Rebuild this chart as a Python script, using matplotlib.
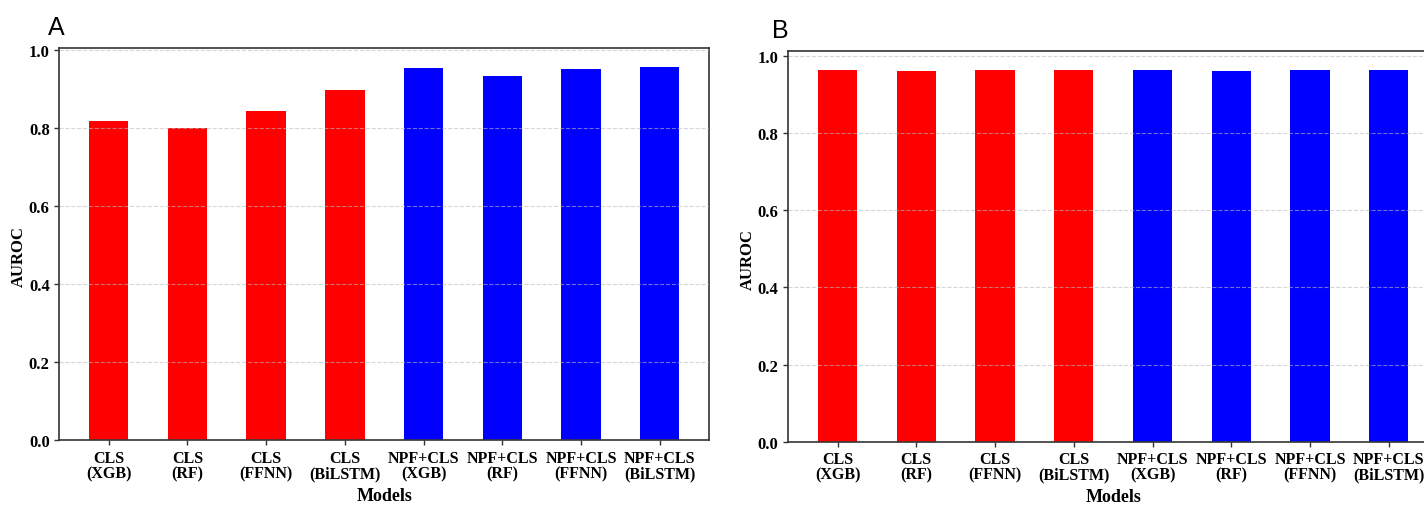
import matplotlib
matplotlib.use("Agg")
import matplotlib.pyplot as plt

modelos = ["CLS\n(XGB)", "CLS\n(RF)", "CLS\n(FFNN)", "CLS\n(BiLSTM)",
           "NPF+CLS\n(XGB)", "NPF+CLS\n(RF)", "NPF+CLS\n(FFNN)", "NPF+CLS\n(BiLSTM)"]
auroc_a = [0.818, 0.801, 0.844, 0.898, 0.953, 0.934, 0.952, 0.957]
auroc_b = [0.964, 0.962, 0.964, 0.964, 0.964, 0.962, 0.964, 0.964]
colores = ["red"] * 4 + ["blue"] * 4

SERIF = "Liberation Serif"
SANS = "Liberation Sans"


def graficar(ax, valores):
    x = range(len(modelos))
    ax.bar(x, valores, width=0.5, color=colores)
    ax.set_xticks(list(x))
    ax.set_xticklabels(modelos, fontsize=11.5, fontweight="bold",
                       family=SERIF, linespacing=0.95)
    for lbl in ax.get_yticklabels():
        lbl.set_fontsize(12)
        lbl.set_fontweight("bold")
        lbl.set_family(SERIF)
    ax.set_xlabel("Models", fontsize=13, fontweight="bold", family=SERIF,
                  labelpad=4)
    ax.set_ylabel("AUROC", fontsize=12, fontweight="bold", family=SERIF,
                  labelpad=1.5)
    ax.yaxis.label.set_y(0.47)
    ax.grid(axis="y", linestyle="--", color="#bbbbbb", alpha=0.6, linewidth=0.8)
    ax.set_axisbelow(False)
    for s in ax.spines.values():
        s.set_color("#333333")
        s.set_linewidth(1.2)
    ax.tick_params(length=3.5, width=1, color="#333333")


fig = plt.figure(figsize=(14.24, 5.06), dpi=100)
ax1 = fig.add_axes([0.0417, 0.1285, 0.4562, 0.7747])
ax2 = fig.add_axes([0.5536, 0.1251, 0.4562, 0.7715])

graficar(ax1, auroc_a)
graficar(ax2, auroc_b)

fig.text(48 / 1424, 1 - 35 / 506, "A", fontsize=18, family=SANS)
fig.text(772 / 1424, 1 - 37.5 / 506, "B", fontsize=18, family=SANS)

fig.savefig("out.png", dpi=100)
